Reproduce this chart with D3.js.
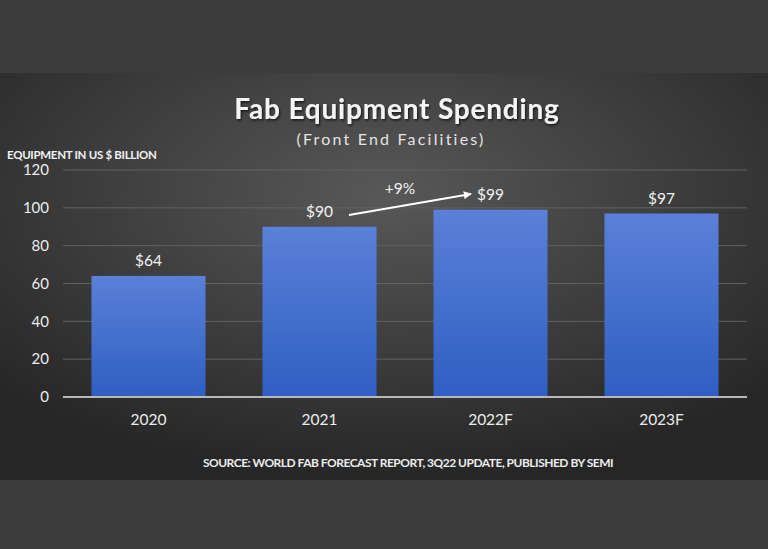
<!DOCTYPE html>
<html>
<head>
<meta charset="utf-8">
<script src="https://cdn.jsdelivr.net/npm/d3@7"></script>
<style>
  body { margin: 0; background: #3b3b3b; }
  svg { display: block; font-family: Lato, "Open Sans", sans-serif; }
</style>
</head>
<body>
<svg id="chart"></svg>
<script>
var years = ['2020', '2021', '2022F', '2023F'];
var spending = [64, 90, 99, 97];
var valueLabels = ['$64', '$90', '$99', '$97'];
var yTicks = [0, 20, 40, 60, 80, 100, 120];

var width = 768;
var height = 549;

var svg = d3.select('#chart').attr('width', width).attr('height', height);
var defs = svg.append('defs');

// slide background
var bg = defs.append('radialGradient').attr('id', 'bgGrad')
  .attr('cx', '50%').attr('cy', '30%').attr('r', '70%');
bg.append('stop').attr('offset', '0%').attr('stop-color', '#585858');
bg.append('stop').attr('offset', '100%').attr('stop-color', '#262626');

var barGrad = defs.append('linearGradient').attr('id', 'barGrad')
  .attr('x1', 0).attr('y1', 0).attr('x2', 0).attr('y2', 1);
barGrad.append('stop').attr('offset', '0%').attr('stop-color', '#5b80d8');
barGrad.append('stop').attr('offset', '100%').attr('stop-color', '#2e5fc2');

var shadow = defs.append('filter').attr('id', 'shadow');
shadow.append('feDropShadow').attr('dx', 1).attr('dy', 1.5)
  .attr('stdDeviation', 1).attr('flood-color', '#000').attr('flood-opacity', 0.7);

defs.append('marker').attr('id', 'arrow')
  .attr('viewBox', '0 0 10 10').attr('refX', 9).attr('refY', 5)
  .attr('markerWidth', 4).attr('markerHeight', 4).attr('orient', 'auto')
  .append('path').attr('d', 'M0,0 L10,5 L0,10 z').attr('fill', '#fff');

svg.append('rect').attr('width', width).attr('height', height).attr('fill', '#3c3c3c');
svg.append('rect').attr('y', 73).attr('width', width).attr('height', 407).attr('fill', 'url(#bgGrad)');

// titles
svg.append('text').attr('x', 397).attr('y', 119).attr('text-anchor', 'middle')
  .attr('fill', '#f4f4f4').attr('font-size', 28).attr('font-weight', 'bold')
  .attr('letter-spacing', 0.8)
  .attr('filter', 'url(#shadow)')
  .text('Fab Equipment Spending');
svg.append('text').attr('x', 391).attr('y', 145).attr('text-anchor', 'middle')
  .attr('fill', '#e4e4e4').attr('font-size', 16).attr('letter-spacing', 2.2)
  .text('(Front End Facilities)');

svg.append('text').attr('x', 7).attr('y', 159)
  .attr('fill', '#f2f2f2').attr('font-size', 11.5).attr('font-weight', 'bold')
  .attr('letter-spacing', -0.3)
  .text('EQUIPMENT IN US $ BILLION');

var x = d3.scaleBand().domain(years).range([63, 747]).paddingInner(0.333).paddingOuter(0.1665);
var y = d3.scaleLinear().domain([0, 120]).range([397, 170]);

// gridlines
svg.append('g').selectAll('line').data(yTicks.slice(1)).enter().append('line')
  .attr('x1', 63).attr('x2', 747)
  .attr('y1', function(d) { return y(d); }).attr('y2', function(d) { return y(d); })
  .attr('stroke', '#626262').attr('stroke-width', 1);

var yAxis = svg.append('g').attr('transform', 'translate(49,0)')
  .call(d3.axisLeft(y).tickValues(yTicks).tickSize(0).tickPadding(0));
yAxis.select('.domain').remove();
yAxis.selectAll('text').attr('fill', '#ececec').attr('font-size', 15).attr('font-family', 'Lato, sans-serif');

// bars
svg.append('g').selectAll('rect').data(spending).enter().append('rect')
  .attr('x', function(d, i) { return x(years[i]); })
  .attr('width', x.bandwidth())
  .attr('y', function(d) { return y(d); })
  .attr('height', function(d) { return y(0) - y(d); })
  .attr('fill', 'url(#barGrad)');

// baseline
svg.append('line').attr('x1', 63).attr('x2', 747).attr('y1', y(0)).attr('y2', y(0))
  .attr('stroke', '#b8b8b8').attr('stroke-width', 2);

var xAxis = svg.append('g').attr('transform', 'translate(0,' + y(0) + ')')
  .call(d3.axisBottom(x).tickSize(0).tickPadding(17));
xAxis.select('.domain').remove();
xAxis.selectAll('text').attr('fill', '#ececec').attr('font-size', 15.5).attr('font-family', 'Lato, sans-serif');

// value labels
svg.append('g').selectAll('text').data(spending).enter().append('text')
  .attr('x', function(d, i) { return x(years[i]) + x.bandwidth() / 2; })
  .attr('y', function(d) { return y(d) - 10; })
  .attr('text-anchor', 'middle')
  .attr('fill', '#f2f2f2').attr('font-size', 15.5)
  .text(function(d, i) { return valueLabels[i]; });

// growth arrow
svg.append('line').attr('x1', 349).attr('y1', 215).attr('x2', 471).attr('y2', 194)
  .attr('stroke', '#fff').attr('stroke-width', 2).attr('marker-end', 'url(#arrow)');
svg.append('text').attr('x', 400).attr('y', 194).attr('text-anchor', 'middle')
  .attr('fill', '#f2f2f2').attr('font-size', 15.5).text('+9%');

svg.append('text').attr('x', 408).attr('y', 467).attr('text-anchor', 'middle')
  .attr('fill', '#ececec').attr('font-size', 12).attr('font-weight', 'bold')
  .attr('letter-spacing', -0.5)
  .text('SOURCE: WORLD FAB FORECAST REPORT, 3Q22 UPDATE, PUBLISHED BY SEMI');
</script>
</body>
</html>
